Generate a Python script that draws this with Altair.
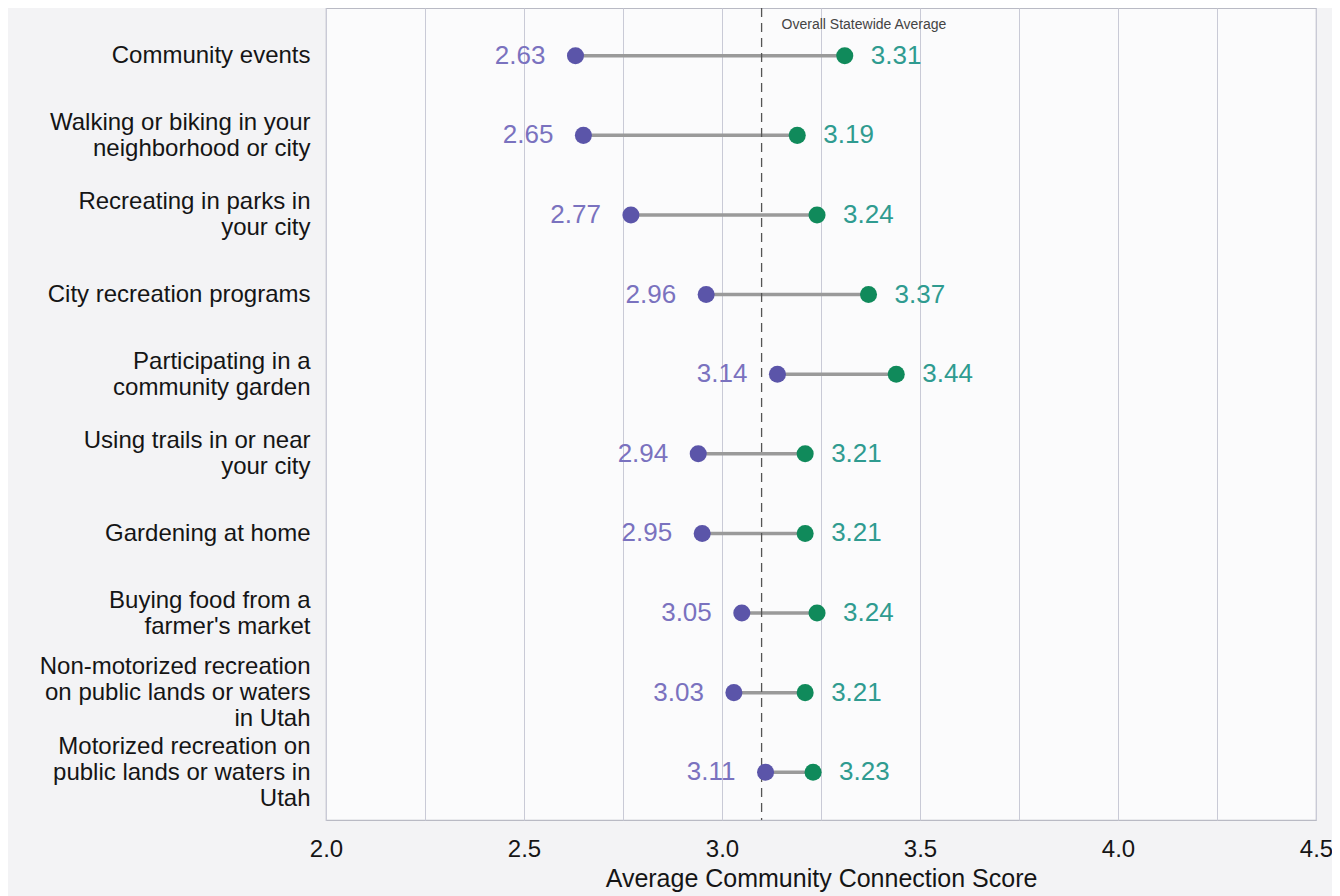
import altair as alt
import pandas as pd

categories = [
    "Community events",
    "Walking or biking in your|neighborhood or city",
    "Recreating in parks in|your city",
    "City recreation programs",
    "Participating in a|community garden",
    "Using trails in or near|your city",
    "Gardening at home",
    "Buying food from a|farmer's market",
    "Non-motorized recreation|on public lands or waters|in Utah",
    "Motorized recreation on|public lands or waters in|Utah",
]
low_scores = [2.63, 2.65, 2.77, 2.96, 3.14, 2.94, 2.95, 3.05, 3.03, 3.11]
high_scores = [3.31, 3.19, 3.24, 3.37, 3.44, 3.21, 3.21, 3.24, 3.21, 3.23]
statewide_avg = 3.10
avg_label = "Overall Statewide Average"
x_grid = [2.0, 2.25, 2.5, 2.75, 3.0, 3.25, 3.5, 3.75, 4.0, 4.25, 4.5]

df = pd.DataFrame({"cat": categories, "low": low_scores, "high": high_scores})
avg_df = pd.DataFrame({"avg": [statewide_avg], "label": [avg_label]})

xscale = alt.Scale(domain=[2.0, 4.5], nice=False, zero=False)
yscale = alt.Scale(type="point", padding=0.6)

label_offset = {
    "condition": [
        {"test": "length(split(datum.label, '|')) >= 3", "value": -26},
        {"test": "length(split(datum.label, '|')) == 2", "value": -13},
    ],
    "value": 0,
}

y_enc = alt.Y(
    "cat:N",
    sort=categories,
    scale=yscale,
    axis=alt.Axis(
        title=None,
        labelExpr="split(datum.label, '|')",
        labelFontSize=24,
        labelColor="#151515",
        labelPadding=16,
        labelLimit=400,
        labelLineHeight=26,
        labelFont="Liberation Sans",
        labelOffset=label_offset,
        ticks=False,
        domain=False,
        grid=False,
    ),
)

x_axis = alt.Axis(
    title="Average Community Connection Score",
    values=x_grid,
    labelExpr="datum.value % 0.5 == 0 ? format(datum.value, '.1f') : ''",
    labelFontSize=24,
    labelColor="#151515",
    labelFont="Liberation Sans",
    labelPadding=17,
    labelFlush=False,
    ticks=False,
    domain=False,
    grid=True,
    gridColor="#c9cad6",
    gridWidth=1,
    titleFontSize=25,
    titleFontWeight="normal",
    titleColor="#151515",
    titleFont="Liberation Sans",
    titlePadding=5,
)

base = alt.Chart(df)

lines = base.mark_rule(color="#9a9a9a", strokeWidth=3.5).encode(
    x=alt.X("low:Q", scale=xscale, axis=x_axis),
    x2="high:Q",
    y=y_enc,
)

avg_rule = alt.Chart(avg_df).mark_rule(
    color="#555555", strokeDash=[9, 6], strokeWidth=1.3
).encode(x=alt.X("avg:Q", scale=xscale))

avg_text = alt.Chart(avg_df).mark_text(
    align="left", baseline="middle", fontSize=14, color="#444444", dx=20,
    font="Liberation Sans",
).encode(x=alt.X("avg:Q", scale=xscale), y=alt.value(17), text="label:N")

low_pts = base.mark_circle(size=290, opacity=1, color="#5b55a9").encode(
    x=alt.X("low:Q", scale=xscale), y=alt.Y("cat:N", sort=categories, scale=yscale)
)
high_pts = base.mark_circle(size=290, opacity=1, color="#108a5b").encode(
    x=alt.X("high:Q", scale=xscale), y=alt.Y("cat:N", sort=categories, scale=yscale)
)

low_txt = base.mark_text(
    align="right", baseline="middle", dx=-30, fontSize=26, color="#7a72bf",
    font="Liberation Sans",
).encode(
    x=alt.X("low:Q", scale=xscale),
    y=alt.Y("cat:N", sort=categories, scale=yscale),
    text=alt.Text("low:Q", format=".2f"),
)
high_txt = base.mark_text(
    align="left", baseline="middle", dx=26, fontSize=26, color="#2f9b90",
    font="Liberation Sans",
).encode(
    x=alt.X("high:Q", scale=xscale),
    y=alt.Y("cat:N", sort=categories, scale=yscale),
    text=alt.Text("high:Q", format=".2f"),
)

chart = (
    alt.layer(lines, avg_rule, avg_text, low_pts, high_pts, low_txt, high_txt)
    .properties(
        width=990,
        height=812,
        autosize=alt.AutoSizeParams(type="none"),
        padding={"left": 318, "top": 0, "right": 16, "bottom": 76},
        background="#f3f3f5",
    )
    .configure_view(stroke="#b9bac4", strokeWidth=1.2, fill="#fbfbfc")
)

chart.save("out.html", embed_options={"renderer": "svg", "actions": False})
